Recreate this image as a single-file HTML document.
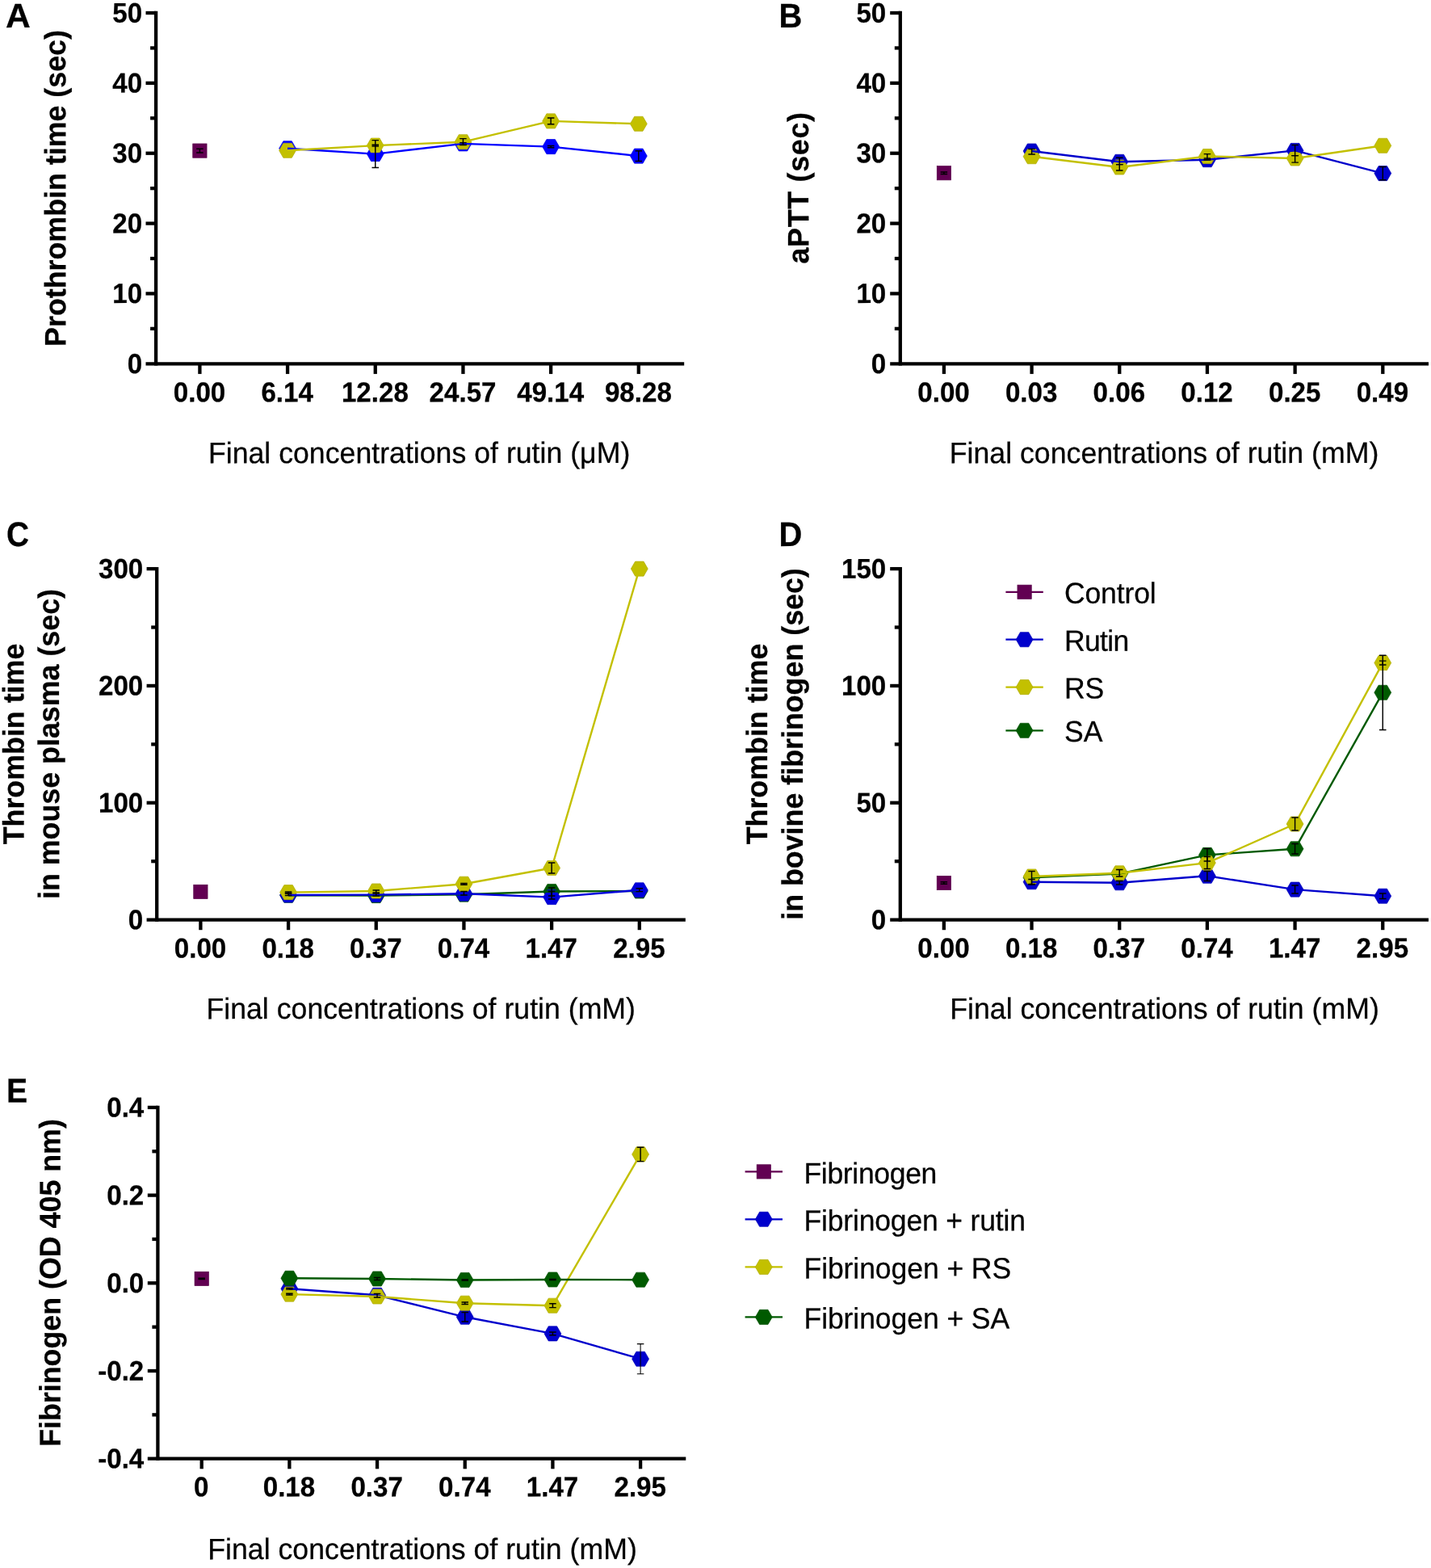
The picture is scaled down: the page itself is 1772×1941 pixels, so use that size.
<!DOCTYPE html>
<html lang="en"><head><meta charset="utf-8"><title>Figure</title>
<style>html,body{margin:0;padding:0;background:#fff}body{width:1772px;height:1941px;overflow:hidden}svg{display:block}text{font-family:"Liberation Sans",sans-serif;fill:#000;stroke:#000;stroke-width:0.25px;text-rendering:geometricPrecision}</style>
</head><body>
<svg width="1772" height="1941" viewBox="0 0 1772 1941" role="img" aria-label="Figure panels A to E">
<rect width="1772" height="1941" fill="#fff"/>
<g id="panelA">
<text transform="translate(6.91 33.9) rotate(-0.03) scale(1.029 1.02)" font-size="41.4" font-weight="700">A</text>
<line x1="193.1" y1="13.85" x2="193.1" y2="452.45" stroke="#000" stroke-width="4.3"/>
<line x1="180.5" y1="450.3" x2="847.2" y2="450.3" stroke="#000" stroke-width="4.3"/>
<line x1="180.5" y1="16" x2="193.1" y2="16" stroke="#000" stroke-width="4.3"/>
<text transform="translate(176.2 27.62) rotate(-0.03) scale(1.0 1.038)" font-size="33.15" font-weight="700" text-anchor="end">50</text>
<line x1="186.1" y1="59.43" x2="193.1" y2="59.43" stroke="#000" stroke-width="4.3"/>
<line x1="180.5" y1="102.86" x2="193.1" y2="102.86" stroke="#000" stroke-width="4.3"/>
<text transform="translate(176.2 114.48) rotate(-0.03) scale(1.0 1.038)" font-size="33.15" font-weight="700" text-anchor="end">40</text>
<line x1="186.1" y1="146.29" x2="193.1" y2="146.29" stroke="#000" stroke-width="4.3"/>
<line x1="180.5" y1="189.72" x2="193.1" y2="189.72" stroke="#000" stroke-width="4.3"/>
<text transform="translate(176.2 201.34) rotate(-0.03) scale(1.0 1.038)" font-size="33.15" font-weight="700" text-anchor="end">30</text>
<line x1="186.1" y1="233.15" x2="193.1" y2="233.15" stroke="#000" stroke-width="4.3"/>
<line x1="180.5" y1="276.58" x2="193.1" y2="276.58" stroke="#000" stroke-width="4.3"/>
<text transform="translate(176.2 288.2) rotate(-0.03) scale(1.0 1.038)" font-size="33.15" font-weight="700" text-anchor="end">20</text>
<line x1="186.1" y1="320.01" x2="193.1" y2="320.01" stroke="#000" stroke-width="4.3"/>
<line x1="180.5" y1="363.44" x2="193.1" y2="363.44" stroke="#000" stroke-width="4.3"/>
<text transform="translate(176.2 375.06) rotate(-0.03) scale(1.0 1.038)" font-size="33.15" font-weight="700" text-anchor="end">10</text>
<line x1="186.1" y1="406.87" x2="193.1" y2="406.87" stroke="#000" stroke-width="4.3"/>
<text transform="translate(176.2 461.92) rotate(-0.03) scale(1.0 1.038)" font-size="33.15" font-weight="700" text-anchor="end">0</text>
<line x1="247.4" y1="450.3" x2="247.4" y2="462.9" stroke="#000" stroke-width="4.3"/>
<text transform="translate(247 497.25) rotate(-0.03) scale(1.0 1.038)" font-size="33.15" font-weight="700" text-anchor="middle">0.00</text>
<line x1="356.08" y1="450.3" x2="356.08" y2="462.9" stroke="#000" stroke-width="4.3"/>
<text transform="translate(355.68 497.25) rotate(-0.03) scale(1.0 1.038)" font-size="33.15" font-weight="700" text-anchor="middle">6.14</text>
<line x1="464.76" y1="450.3" x2="464.76" y2="462.9" stroke="#000" stroke-width="4.3"/>
<text transform="translate(464.36 497.25) rotate(-0.03) scale(1.0 1.038)" font-size="33.15" font-weight="700" text-anchor="middle">12.28</text>
<line x1="573.44" y1="450.3" x2="573.44" y2="462.9" stroke="#000" stroke-width="4.3"/>
<text transform="translate(573.04 497.25) rotate(-0.03) scale(1.0 1.038)" font-size="33.15" font-weight="700" text-anchor="middle">24.57</text>
<line x1="682.12" y1="450.3" x2="682.12" y2="462.9" stroke="#000" stroke-width="4.3"/>
<text transform="translate(681.72 497.25) rotate(-0.03) scale(1.0 1.038)" font-size="33.15" font-weight="700" text-anchor="middle">49.14</text>
<line x1="790.8" y1="450.3" x2="790.8" y2="462.9" stroke="#000" stroke-width="4.3"/>
<text transform="translate(790.4 497.25) rotate(-0.03) scale(1.0 1.038)" font-size="33.15" font-weight="700" text-anchor="middle">98.28</text>
<text transform="translate(519.1 573.1) rotate(-0.03) scale(1.0 1.025)" font-size="35.7" text-anchor="middle">Final concentrations of rutin (μM)</text>
<text transform="translate(81.2 233) rotate(-90.03) scale(1.0 1.025)" font-size="35.8" font-weight="700" text-anchor="middle">Prothrombin time (sec)</text>
<rect x="238.75" y="177.95" width="17.3" height="17.3" fill="#620052" stroke="#580049" stroke-width="0.7"/>
<polygon points="345.63,183.7 350.86,174.65 361.31,174.65 366.53,183.7 361.31,192.75 350.86,192.75" fill="#0000ff" stroke="#0000e5" stroke-width="0.7" stroke-linejoin="miter"/>
<polygon points="454.31,190.6 459.53,181.55 469.99,181.55 475.21,190.6 469.99,199.65 459.53,199.65" fill="#0000ff" stroke="#0000e5" stroke-width="0.7" stroke-linejoin="miter"/>
<polygon points="562.99,177.9 568.22,168.85 578.67,168.85 583.89,177.9 578.67,186.95 568.22,186.95" fill="#0000ff" stroke="#0000e5" stroke-width="0.7" stroke-linejoin="miter"/>
<polygon points="671.67,181.6 676.89,172.55 687.35,172.55 692.57,181.6 687.35,190.65 676.89,190.65" fill="#0000ff" stroke="#0000e5" stroke-width="0.7" stroke-linejoin="miter"/>
<polygon points="780.35,193.1 785.58,184.05 796.03,184.05 801.25,193.1 796.03,202.15 785.58,202.15" fill="#0000ff" stroke="#0000e5" stroke-width="0.7" stroke-linejoin="miter"/>
<polygon points="345.63,186.3 350.86,177.25 361.31,177.25 366.53,186.3 361.31,195.35 350.86,195.35" fill="#c3c000" stroke="#afac00" stroke-width="0.7" stroke-linejoin="miter"/>
<polygon points="454.31,180.1 459.53,171.05 469.99,171.05 475.21,180.1 469.99,189.15 459.53,189.15" fill="#c3c000" stroke="#afac00" stroke-width="0.7" stroke-linejoin="miter"/>
<polygon points="562.99,175.7 568.22,166.65 578.67,166.65 583.89,175.7 578.67,184.75 568.22,184.75" fill="#c3c000" stroke="#afac00" stroke-width="0.7" stroke-linejoin="miter"/>
<polygon points="671.67,149.9 676.89,140.85 687.35,140.85 692.57,149.9 687.35,158.95 676.89,158.95" fill="#c3c000" stroke="#afac00" stroke-width="0.7" stroke-linejoin="miter"/>
<polygon points="780.35,153.3 785.58,144.25 796.03,144.25 801.25,153.3 796.03,162.35 785.58,162.35" fill="#c3c000" stroke="#afac00" stroke-width="0.7" stroke-linejoin="miter"/>
<polyline points="356.08,183.7 464.76,190.6 573.44,177.9 682.12,181.6 790.8,193.1" fill="none" stroke="#0000ff" stroke-width="2.4" stroke-linejoin="round"/>
<polyline points="356.08,186.3 464.76,180.1 573.44,175.7 682.12,149.9 790.8,153.3" fill="none" stroke="#c3c000" stroke-width="2.4" stroke-linejoin="round"/>
<path d="M247.4 184.3V188.9M243.15 184.3h8.5M243.15 188.9h8.5" stroke="#000" stroke-width="1.45" fill="none"/>
<path d="M464.76 173.6V207.5M460.51 173.6h8.5M460.51 207.5h8.5" stroke="#000" stroke-width="1.45" fill="none"/>
<path d="M464.76 179.2V181M460.51 179.2h8.5M460.51 181h8.5" stroke="#000" stroke-width="1.45" fill="none"/>
<path d="M573.44 171.6V179.6M569.19 171.6h8.5M569.19 179.6h8.5" stroke="#000" stroke-width="1.45" fill="none"/>
<path d="M573.44 176.6V179.2M569.19 176.6h8.5M569.19 179.2h8.5" stroke="#000" stroke-width="1.45" fill="none"/>
<path d="M682.12 146V153.8M677.87 146h8.5M677.87 153.8h8.5" stroke="#000" stroke-width="1.45" fill="none"/>
<path d="M682.12 180.4V182.8M677.87 180.4h8.5M677.87 182.8h8.5" stroke="#000" stroke-width="1.45" fill="none"/>
<path d="M790.8 186.8V199.4M786.55 186.8h8.5M786.55 199.4h8.5" stroke="#000" stroke-width="1.45" fill="none"/>
</g>
<g id="panelB">
<text transform="translate(964.44 33.9) rotate(-0.03) scale(0.965 1.02)" font-size="41.4" font-weight="700">B</text>
<line x1="1114.8" y1="13.85" x2="1114.8" y2="452.45" stroke="#000" stroke-width="4.3"/>
<line x1="1102.2" y1="450.3" x2="1769" y2="450.3" stroke="#000" stroke-width="4.3"/>
<line x1="1102.2" y1="16" x2="1114.8" y2="16" stroke="#000" stroke-width="4.3"/>
<text transform="translate(1097.3 27.62) rotate(-0.03) scale(1.0 1.038)" font-size="33.15" font-weight="700" text-anchor="end">50</text>
<line x1="1107.8" y1="59.43" x2="1114.8" y2="59.43" stroke="#000" stroke-width="4.3"/>
<line x1="1102.2" y1="102.86" x2="1114.8" y2="102.86" stroke="#000" stroke-width="4.3"/>
<text transform="translate(1097.3 114.48) rotate(-0.03) scale(1.0 1.038)" font-size="33.15" font-weight="700" text-anchor="end">40</text>
<line x1="1107.8" y1="146.29" x2="1114.8" y2="146.29" stroke="#000" stroke-width="4.3"/>
<line x1="1102.2" y1="189.72" x2="1114.8" y2="189.72" stroke="#000" stroke-width="4.3"/>
<text transform="translate(1097.3 201.34) rotate(-0.03) scale(1.0 1.038)" font-size="33.15" font-weight="700" text-anchor="end">30</text>
<line x1="1107.8" y1="233.15" x2="1114.8" y2="233.15" stroke="#000" stroke-width="4.3"/>
<line x1="1102.2" y1="276.58" x2="1114.8" y2="276.58" stroke="#000" stroke-width="4.3"/>
<text transform="translate(1097.3 288.2) rotate(-0.03) scale(1.0 1.038)" font-size="33.15" font-weight="700" text-anchor="end">20</text>
<line x1="1107.8" y1="320.01" x2="1114.8" y2="320.01" stroke="#000" stroke-width="4.3"/>
<line x1="1102.2" y1="363.44" x2="1114.8" y2="363.44" stroke="#000" stroke-width="4.3"/>
<text transform="translate(1097.3 375.06) rotate(-0.03) scale(1.0 1.038)" font-size="33.15" font-weight="700" text-anchor="end">10</text>
<line x1="1107.8" y1="406.87" x2="1114.8" y2="406.87" stroke="#000" stroke-width="4.3"/>
<text transform="translate(1097.3 461.92) rotate(-0.03) scale(1.0 1.038)" font-size="33.15" font-weight="700" text-anchor="end">0</text>
<line x1="1168.9" y1="450.3" x2="1168.9" y2="462.9" stroke="#000" stroke-width="4.3"/>
<text transform="translate(1168.5 497.25) rotate(-0.03) scale(1.0 1.038)" font-size="33.15" font-weight="700" text-anchor="middle">0.00</text>
<line x1="1277.58" y1="450.3" x2="1277.58" y2="462.9" stroke="#000" stroke-width="4.3"/>
<text transform="translate(1277.18 497.25) rotate(-0.03) scale(1.0 1.038)" font-size="33.15" font-weight="700" text-anchor="middle">0.03</text>
<line x1="1386.26" y1="450.3" x2="1386.26" y2="462.9" stroke="#000" stroke-width="4.3"/>
<text transform="translate(1385.86 497.25) rotate(-0.03) scale(1.0 1.038)" font-size="33.15" font-weight="700" text-anchor="middle">0.06</text>
<line x1="1494.94" y1="450.3" x2="1494.94" y2="462.9" stroke="#000" stroke-width="4.3"/>
<text transform="translate(1494.54 497.25) rotate(-0.03) scale(1.0 1.038)" font-size="33.15" font-weight="700" text-anchor="middle">0.12</text>
<line x1="1603.62" y1="450.3" x2="1603.62" y2="462.9" stroke="#000" stroke-width="4.3"/>
<text transform="translate(1603.22 497.25) rotate(-0.03) scale(1.0 1.038)" font-size="33.15" font-weight="700" text-anchor="middle">0.25</text>
<line x1="1712.3" y1="450.3" x2="1712.3" y2="462.9" stroke="#000" stroke-width="4.3"/>
<text transform="translate(1711.9 497.25) rotate(-0.03) scale(1.0 1.038)" font-size="33.15" font-weight="700" text-anchor="middle">0.49</text>
<text transform="translate(1441.5 573.1) rotate(-0.03) scale(1.0 1.025)" font-size="35.7" text-anchor="middle">Final concentrations of rutin (mM)</text>
<text transform="translate(1001.1 232.4) rotate(-90.03) scale(1.0 1.025)" font-size="35.8" font-weight="700" text-anchor="middle" letter-spacing="0.72">aPTT (sec)</text>
<rect x="1160.25" y="205.55" width="17.3" height="17.3" fill="#620052" stroke="#580049" stroke-width="0.7"/>
<polygon points="1267.13,187 1272.36,177.95 1282.81,177.95 1288.03,187 1282.81,196.05 1272.36,196.05" fill="#0000cc" stroke="#0000b7" stroke-width="0.7" stroke-linejoin="miter"/>
<polygon points="1375.81,200.3 1381.04,191.25 1391.49,191.25 1396.71,200.3 1391.49,209.35 1381.04,209.35" fill="#0000cc" stroke="#0000b7" stroke-width="0.7" stroke-linejoin="miter"/>
<polygon points="1484.49,197.7 1489.72,188.65 1500.16,188.65 1505.39,197.7 1500.16,206.75 1489.72,206.75" fill="#0000cc" stroke="#0000b7" stroke-width="0.7" stroke-linejoin="miter"/>
<polygon points="1593.17,186.4 1598.4,177.35 1608.85,177.35 1614.07,186.4 1608.85,195.45 1598.4,195.45" fill="#0000cc" stroke="#0000b7" stroke-width="0.7" stroke-linejoin="miter"/>
<polygon points="1701.85,214.6 1707.08,205.55 1717.53,205.55 1722.75,214.6 1717.53,223.65 1707.08,223.65" fill="#0000cc" stroke="#0000b7" stroke-width="0.7" stroke-linejoin="miter"/>
<polygon points="1267.13,193.7 1272.36,184.65 1282.81,184.65 1288.03,193.7 1282.81,202.75 1272.36,202.75" fill="#c3c000" stroke="#afac00" stroke-width="0.7" stroke-linejoin="miter"/>
<polygon points="1375.81,207 1381.04,197.95 1391.49,197.95 1396.71,207 1391.49,216.05 1381.04,216.05" fill="#c3c000" stroke="#afac00" stroke-width="0.7" stroke-linejoin="miter"/>
<polygon points="1484.49,193.5 1489.72,184.45 1500.16,184.45 1505.39,193.5 1500.16,202.55 1489.72,202.55" fill="#c3c000" stroke="#afac00" stroke-width="0.7" stroke-linejoin="miter"/>
<polygon points="1593.17,196 1598.4,186.95 1608.85,186.95 1614.07,196 1608.85,205.05 1598.4,205.05" fill="#c3c000" stroke="#afac00" stroke-width="0.7" stroke-linejoin="miter"/>
<polygon points="1701.85,180.3 1707.08,171.25 1717.53,171.25 1722.75,180.3 1717.53,189.35 1707.08,189.35" fill="#c3c000" stroke="#afac00" stroke-width="0.7" stroke-linejoin="miter"/>
<polyline points="1277.58,187 1386.26,200.3 1494.94,197.7 1603.62,186.4 1712.3,214.6" fill="none" stroke="#0000cc" stroke-width="2.4" stroke-linejoin="round"/>
<polyline points="1277.58,193.7 1386.26,207 1494.94,193.5 1603.62,196 1712.3,180.3" fill="none" stroke="#c3c000" stroke-width="2.4" stroke-linejoin="round"/>
<path d="M1168.9 213V215.4M1164.65 213h8.5M1164.65 215.4h8.5" stroke="#000" stroke-width="1.45" fill="none"/>
<path d="M1277.58 184.5V191M1273.33 184.5h8.5M1273.33 191h8.5" stroke="#000" stroke-width="1.45" fill="none"/>
<path d="M1386.26 195.2V203.6M1382.01 195.2h8.5M1382.01 203.6h8.5" stroke="#000" stroke-width="1.45" fill="none"/>
<path d="M1386.26 203.6V211M1382.01 203.6h8.5M1382.01 211h8.5" stroke="#000" stroke-width="1.45" fill="none"/>
<path d="M1494.94 190.6V197.7M1490.69 190.6h8.5M1490.69 197.7h8.5" stroke="#000" stroke-width="1.45" fill="none"/>
<path d="M1494.94 196V197.8M1490.69 196h8.5M1490.69 197.8h8.5" stroke="#000" stroke-width="1.45" fill="none"/>
<path d="M1603.62 179.4V192.6M1599.37 179.4h8.5M1599.37 192.6h8.5" stroke="#000" stroke-width="1.45" fill="none"/>
<path d="M1603.62 192.6V201.1M1599.37 192.6h8.5M1599.37 201.1h8.5" stroke="#000" stroke-width="1.45" fill="none"/>
<path d="M1712.3 206.5V222.8M1708.05 206.5h8.5M1708.05 222.8h8.5" stroke="#000" stroke-width="1.45" fill="none"/>
</g>
<g id="panelC">
<text transform="translate(7.9 675.95) rotate(-0.03) scale(0.938 1.033)" font-size="41.4" font-weight="700">C</text>
<line x1="194.2" y1="701.95" x2="194.2" y2="1140.75" stroke="#000" stroke-width="4.3"/>
<line x1="181.6" y1="1138.6" x2="848.85" y2="1138.6" stroke="#000" stroke-width="4.3"/>
<line x1="181.6" y1="704.1" x2="194.2" y2="704.1" stroke="#000" stroke-width="4.3"/>
<text transform="translate(177.3 715.72) rotate(-0.03) scale(1.0 1.038)" font-size="33.15" font-weight="700" text-anchor="end">300</text>
<line x1="187.2" y1="776.52" x2="194.2" y2="776.52" stroke="#000" stroke-width="4.3"/>
<line x1="181.6" y1="848.93" x2="194.2" y2="848.93" stroke="#000" stroke-width="4.3"/>
<text transform="translate(177.3 860.55) rotate(-0.03) scale(1.0 1.038)" font-size="33.15" font-weight="700" text-anchor="end">200</text>
<line x1="187.2" y1="921.35" x2="194.2" y2="921.35" stroke="#000" stroke-width="4.3"/>
<line x1="181.6" y1="993.77" x2="194.2" y2="993.77" stroke="#000" stroke-width="4.3"/>
<text transform="translate(177.3 1005.39) rotate(-0.03) scale(1.0 1.038)" font-size="33.15" font-weight="700" text-anchor="end">100</text>
<line x1="187.2" y1="1066.18" x2="194.2" y2="1066.18" stroke="#000" stroke-width="4.3"/>
<text transform="translate(177.3 1150.22) rotate(-0.03) scale(1.0 1.038)" font-size="33.15" font-weight="700" text-anchor="end">0</text>
<line x1="248.4" y1="1138.6" x2="248.4" y2="1151.2" stroke="#000" stroke-width="4.3"/>
<text transform="translate(248 1185.5) rotate(-0.03) scale(1.0 1.038)" font-size="33.15" font-weight="700" text-anchor="middle">0.00</text>
<line x1="357.08" y1="1138.6" x2="357.08" y2="1151.2" stroke="#000" stroke-width="4.3"/>
<text transform="translate(356.68 1185.5) rotate(-0.03) scale(1.0 1.038)" font-size="33.15" font-weight="700" text-anchor="middle">0.18</text>
<line x1="465.76" y1="1138.6" x2="465.76" y2="1151.2" stroke="#000" stroke-width="4.3"/>
<text transform="translate(465.36 1185.5) rotate(-0.03) scale(1.0 1.038)" font-size="33.15" font-weight="700" text-anchor="middle">0.37</text>
<line x1="574.44" y1="1138.6" x2="574.44" y2="1151.2" stroke="#000" stroke-width="4.3"/>
<text transform="translate(574.04 1185.5) rotate(-0.03) scale(1.0 1.038)" font-size="33.15" font-weight="700" text-anchor="middle">0.74</text>
<line x1="683.12" y1="1138.6" x2="683.12" y2="1151.2" stroke="#000" stroke-width="4.3"/>
<text transform="translate(682.72 1185.5) rotate(-0.03) scale(1.0 1.038)" font-size="33.15" font-weight="700" text-anchor="middle">1.47</text>
<line x1="791.8" y1="1138.6" x2="791.8" y2="1151.2" stroke="#000" stroke-width="4.3"/>
<text transform="translate(791.4 1185.5) rotate(-0.03) scale(1.0 1.038)" font-size="33.15" font-weight="700" text-anchor="middle">2.95</text>
<text transform="translate(521.2 1261) rotate(-0.03) scale(1.0 1.025)" font-size="35.7" text-anchor="middle">Final concentrations of rutin (mM)</text>
<text transform="translate(29.4 921) rotate(-90.03) scale(1.0 1.025)" font-size="35.8" font-weight="700" text-anchor="middle">Thrombin time</text>
<text transform="translate(73.1 921) rotate(-90.03) scale(1.0 1.025)" font-size="35.8" font-weight="700" text-anchor="middle">in mouse plasma (sec)</text>
<rect x="239.75" y="1095.25" width="17.3" height="17.3" fill="#620052" stroke="#580049" stroke-width="0.7"/>
<polygon points="346.63,1108.3 351.86,1099.25 362.31,1099.25 367.53,1108.3 362.31,1117.35 351.86,1117.35" fill="#005a00" stroke="#005100" stroke-width="0.7" stroke-linejoin="miter"/>
<polygon points="455.31,1108.6 460.53,1099.55 470.99,1099.55 476.21,1108.6 470.99,1117.65 460.53,1117.65" fill="#005a00" stroke="#005100" stroke-width="0.7" stroke-linejoin="miter"/>
<polygon points="563.99,1107.2 569.22,1098.15 579.67,1098.15 584.89,1107.2 579.67,1116.25 569.22,1116.25" fill="#005a00" stroke="#005100" stroke-width="0.7" stroke-linejoin="miter"/>
<polygon points="672.67,1103.5 677.89,1094.45 688.35,1094.45 693.57,1103.5 688.35,1112.55 677.89,1112.55" fill="#005a00" stroke="#005100" stroke-width="0.7" stroke-linejoin="miter"/>
<polygon points="781.35,1103 786.58,1093.95 797.03,1093.95 802.25,1103 797.03,1112.05 786.58,1112.05" fill="#005a00" stroke="#005100" stroke-width="0.7" stroke-linejoin="miter"/>
<polygon points="346.63,1108 351.86,1098.95 362.31,1098.95 367.53,1108 362.31,1117.05 351.86,1117.05" fill="#0000dc" stroke="#0000c6" stroke-width="0.7" stroke-linejoin="miter"/>
<polygon points="455.31,1107.6 460.53,1098.55 470.99,1098.55 476.21,1107.6 470.99,1116.65 460.53,1116.65" fill="#0000dc" stroke="#0000c6" stroke-width="0.7" stroke-linejoin="miter"/>
<polygon points="563.99,1106.3 569.22,1097.25 579.67,1097.25 584.89,1106.3 579.67,1115.35 569.22,1115.35" fill="#0000dc" stroke="#0000c6" stroke-width="0.7" stroke-linejoin="miter"/>
<polygon points="672.67,1110.6 677.89,1101.55 688.35,1101.55 693.57,1110.6 688.35,1119.65 677.89,1119.65" fill="#0000dc" stroke="#0000c6" stroke-width="0.7" stroke-linejoin="miter"/>
<polygon points="781.35,1101.8 786.58,1092.75 797.03,1092.75 802.25,1101.8 797.03,1110.85 786.58,1110.85" fill="#0000dc" stroke="#0000c6" stroke-width="0.7" stroke-linejoin="miter"/>
<polygon points="346.63,1104.6 351.86,1095.55 362.31,1095.55 367.53,1104.6 362.31,1113.65 351.86,1113.65" fill="#c3c000" stroke="#afac00" stroke-width="0.7" stroke-linejoin="miter"/>
<polygon points="455.31,1103 460.53,1093.95 470.99,1093.95 476.21,1103 470.99,1112.05 460.53,1112.05" fill="#c3c000" stroke="#afac00" stroke-width="0.7" stroke-linejoin="miter"/>
<polygon points="563.99,1094.2 569.22,1085.15 579.67,1085.15 584.89,1094.2 579.67,1103.25 569.22,1103.25" fill="#c3c000" stroke="#afac00" stroke-width="0.7" stroke-linejoin="miter"/>
<polygon points="672.67,1074.5 677.89,1065.45 688.35,1065.45 693.57,1074.5 688.35,1083.55 677.89,1083.55" fill="#c3c000" stroke="#afac00" stroke-width="0.7" stroke-linejoin="miter"/>
<polygon points="781.35,704.1 786.58,695.05 797.03,695.05 802.25,704.1 797.03,713.15 786.58,713.15" fill="#c3c000" stroke="#afac00" stroke-width="0.7" stroke-linejoin="miter"/>
<polyline points="357.08,1108.3 465.76,1108.6 574.44,1107.2 683.12,1103.5 791.8,1103" fill="none" stroke="#005a00" stroke-width="2.4" stroke-linejoin="round"/>
<polyline points="357.08,1108 465.76,1107.6 574.44,1106.3 683.12,1110.6 791.8,1101.8" fill="none" stroke="#0000dc" stroke-width="2.4" stroke-linejoin="round"/>
<polyline points="357.08,1104.6 465.76,1103 574.44,1094.2 683.12,1074.5 791.8,704.1" fill="none" stroke="#c3c000" stroke-width="2.4" stroke-linejoin="round"/>
<path d="M357.08 1105.5V1108.5M352.83 1105.5h8.5M352.83 1108.5h8.5" stroke="#000" stroke-width="1.45" fill="none"/>
<path d="M357.08 1104V1106M352.83 1104h8.5M352.83 1106h8.5" stroke="#000" stroke-width="1.45" fill="none"/>
<path d="M465.76 1102V1105M461.51 1102h8.5M461.51 1105h8.5" stroke="#000" stroke-width="1.45" fill="none"/>
<path d="M465.76 1106V1109M461.51 1106h8.5M461.51 1109h8.5" stroke="#000" stroke-width="1.45" fill="none"/>
<path d="M574.44 1093.5V1095.3M570.19 1093.5h8.5M570.19 1095.3h8.5" stroke="#000" stroke-width="1.45" fill="none"/>
<path d="M574.44 1103.5V1108M570.19 1103.5h8.5M570.19 1108h8.5" stroke="#000" stroke-width="1.45" fill="none"/>
<path d="M683.12 1068V1081M678.87 1068h8.5M678.87 1081h8.5" stroke="#000" stroke-width="1.45" fill="none"/>
<path d="M683.12 1099V1113M678.87 1099h8.5M678.87 1113h8.5" stroke="#000" stroke-width="1.45" fill="none"/>
<path d="M683.12 1103.5V1109M678.87 1103.5h8.5M678.87 1109h8.5" stroke="#000" stroke-width="1.45" fill="none"/>
<path d="M791.8 1099.8V1103.6M787.55 1099.8h8.5M787.55 1103.6h8.5" stroke="#000" stroke-width="1.45" fill="none"/>
</g>
<g id="panelD">
<text transform="translate(964.43 675.9) rotate(-0.03) scale(0.966 1.024)" font-size="41.4" font-weight="700">D</text>
<line x1="1114.8" y1="701.95" x2="1114.8" y2="1140.75" stroke="#000" stroke-width="4.3"/>
<line x1="1102.2" y1="1138.6" x2="1768.95" y2="1138.6" stroke="#000" stroke-width="4.3"/>
<line x1="1102.2" y1="704.1" x2="1114.8" y2="704.1" stroke="#000" stroke-width="4.3"/>
<text transform="translate(1097.3 715.72) rotate(-0.03) scale(1.0 1.038)" font-size="33.15" font-weight="700" text-anchor="end">150</text>
<line x1="1107.8" y1="776.52" x2="1114.8" y2="776.52" stroke="#000" stroke-width="4.3"/>
<line x1="1102.2" y1="848.93" x2="1114.8" y2="848.93" stroke="#000" stroke-width="4.3"/>
<text transform="translate(1097.3 860.55) rotate(-0.03) scale(1.0 1.038)" font-size="33.15" font-weight="700" text-anchor="end">100</text>
<line x1="1107.8" y1="921.35" x2="1114.8" y2="921.35" stroke="#000" stroke-width="4.3"/>
<line x1="1102.2" y1="993.77" x2="1114.8" y2="993.77" stroke="#000" stroke-width="4.3"/>
<text transform="translate(1097.3 1005.39) rotate(-0.03) scale(1.0 1.038)" font-size="33.15" font-weight="700" text-anchor="end">50</text>
<line x1="1107.8" y1="1066.18" x2="1114.8" y2="1066.18" stroke="#000" stroke-width="4.3"/>
<text transform="translate(1097.3 1150.22) rotate(-0.03) scale(1.0 1.038)" font-size="33.15" font-weight="700" text-anchor="end">0</text>
<line x1="1168.85" y1="1138.6" x2="1168.85" y2="1151.2" stroke="#000" stroke-width="4.3"/>
<text transform="translate(1168.45 1185.3) rotate(-0.03) scale(1.0 1.038)" font-size="33.15" font-weight="700" text-anchor="middle">0.00</text>
<line x1="1277.53" y1="1138.6" x2="1277.53" y2="1151.2" stroke="#000" stroke-width="4.3"/>
<text transform="translate(1277.13 1185.3) rotate(-0.03) scale(1.0 1.038)" font-size="33.15" font-weight="700" text-anchor="middle">0.18</text>
<line x1="1386.21" y1="1138.6" x2="1386.21" y2="1151.2" stroke="#000" stroke-width="4.3"/>
<text transform="translate(1385.81 1185.3) rotate(-0.03) scale(1.0 1.038)" font-size="33.15" font-weight="700" text-anchor="middle">0.37</text>
<line x1="1494.89" y1="1138.6" x2="1494.89" y2="1151.2" stroke="#000" stroke-width="4.3"/>
<text transform="translate(1494.49 1185.3) rotate(-0.03) scale(1.0 1.038)" font-size="33.15" font-weight="700" text-anchor="middle">0.74</text>
<line x1="1603.57" y1="1138.6" x2="1603.57" y2="1151.2" stroke="#000" stroke-width="4.3"/>
<text transform="translate(1603.17 1185.3) rotate(-0.03) scale(1.0 1.038)" font-size="33.15" font-weight="700" text-anchor="middle">1.47</text>
<line x1="1712.25" y1="1138.6" x2="1712.25" y2="1151.2" stroke="#000" stroke-width="4.3"/>
<text transform="translate(1711.85 1185.3) rotate(-0.03) scale(1.0 1.038)" font-size="33.15" font-weight="700" text-anchor="middle">2.95</text>
<text transform="translate(1442 1261) rotate(-0.03) scale(1.0 1.025)" font-size="35.7" text-anchor="middle">Final concentrations of rutin (mM)</text>
<text transform="translate(950 921) rotate(-90.03) scale(1.0 1.025)" font-size="35.8" font-weight="700" text-anchor="middle">Thrombin time</text>
<text transform="translate(994 921) rotate(-90.03) scale(1.0 1.025)" font-size="35.8" font-weight="700" text-anchor="middle">in bovine fibrinogen (sec)</text>
<rect x="1160.2" y="1084.35" width="17.3" height="17.3" fill="#620052" stroke="#580049" stroke-width="0.7"/>
<polygon points="1267.08,1086.3 1272.31,1077.25 1282.75,1077.25 1287.98,1086.3 1282.75,1095.35 1272.31,1095.35" fill="#005a00" stroke="#005100" stroke-width="0.7" stroke-linejoin="miter"/>
<polygon points="1375.76,1081.6 1380.99,1072.55 1391.43,1072.55 1396.66,1081.6 1391.43,1090.65 1380.99,1090.65" fill="#005a00" stroke="#005100" stroke-width="0.7" stroke-linejoin="miter"/>
<polygon points="1484.44,1058.4 1489.66,1049.35 1500.11,1049.35 1505.34,1058.4 1500.11,1067.45 1489.66,1067.45" fill="#005a00" stroke="#005100" stroke-width="0.7" stroke-linejoin="miter"/>
<polygon points="1593.12,1050.8 1598.35,1041.75 1608.79,1041.75 1614.02,1050.8 1608.79,1059.85 1598.35,1059.85" fill="#005a00" stroke="#005100" stroke-width="0.7" stroke-linejoin="miter"/>
<polygon points="1701.8,857.3 1707.03,848.25 1717.47,848.25 1722.7,857.3 1717.47,866.35 1707.03,866.35" fill="#005a00" stroke="#005100" stroke-width="0.7" stroke-linejoin="miter"/>
<polygon points="1267.08,1091.8 1272.31,1082.75 1282.75,1082.75 1287.98,1091.8 1282.75,1100.85 1272.31,1100.85" fill="#0000cc" stroke="#0000b7" stroke-width="0.7" stroke-linejoin="miter"/>
<polygon points="1375.76,1092.8 1380.99,1083.75 1391.43,1083.75 1396.66,1092.8 1391.43,1101.85 1380.99,1101.85" fill="#0000cc" stroke="#0000b7" stroke-width="0.7" stroke-linejoin="miter"/>
<polygon points="1484.44,1084.3 1489.66,1075.25 1500.11,1075.25 1505.34,1084.3 1500.11,1093.35 1489.66,1093.35" fill="#0000cc" stroke="#0000b7" stroke-width="0.7" stroke-linejoin="miter"/>
<polygon points="1593.12,1101.1 1598.35,1092.05 1608.79,1092.05 1614.02,1101.1 1608.79,1110.15 1598.35,1110.15" fill="#0000cc" stroke="#0000b7" stroke-width="0.7" stroke-linejoin="miter"/>
<polygon points="1701.8,1109.2 1707.03,1100.15 1717.47,1100.15 1722.7,1109.2 1717.47,1118.25 1707.03,1118.25" fill="#0000cc" stroke="#0000b7" stroke-width="0.7" stroke-linejoin="miter"/>
<polygon points="1267.08,1085 1272.31,1075.95 1282.75,1075.95 1287.98,1085 1282.75,1094.05 1272.31,1094.05" fill="#c3c000" stroke="#afac00" stroke-width="0.7" stroke-linejoin="miter"/>
<polygon points="1375.76,1080.8 1380.99,1071.75 1391.43,1071.75 1396.66,1080.8 1391.43,1089.85 1380.99,1089.85" fill="#c3c000" stroke="#afac00" stroke-width="0.7" stroke-linejoin="miter"/>
<polygon points="1484.44,1068.1 1489.66,1059.05 1500.11,1059.05 1505.34,1068.1 1500.11,1077.15 1489.66,1077.15" fill="#c3c000" stroke="#afac00" stroke-width="0.7" stroke-linejoin="miter"/>
<polygon points="1593.12,1020 1598.35,1010.95 1608.79,1010.95 1614.02,1020 1608.79,1029.05 1598.35,1029.05" fill="#c3c000" stroke="#afac00" stroke-width="0.7" stroke-linejoin="miter"/>
<polygon points="1701.8,820.6 1707.03,811.55 1717.47,811.55 1722.7,820.6 1717.47,829.65 1707.03,829.65" fill="#c3c000" stroke="#afac00" stroke-width="0.7" stroke-linejoin="miter"/>
<polyline points="1277.53,1086.3 1386.21,1081.6 1494.89,1058.4 1603.57,1050.8 1712.25,857.3" fill="none" stroke="#005a00" stroke-width="2.4" stroke-linejoin="round"/>
<polyline points="1277.53,1091.8 1386.21,1092.8 1494.89,1084.3 1603.57,1101.1 1712.25,1109.2" fill="none" stroke="#0000cc" stroke-width="2.4" stroke-linejoin="round"/>
<polyline points="1277.53,1085 1386.21,1080.8 1494.89,1068.1 1603.57,1020 1712.25,820.6" fill="none" stroke="#c3c000" stroke-width="2.4" stroke-linejoin="round"/>
<path d="M1168.85 1091.8V1094.2M1164.6 1091.8h8.5M1164.6 1094.2h8.5" stroke="#000" stroke-width="1.45" fill="none"/>
<path d="M1277.53 1078.5V1095M1273.28 1078.5h8.5M1273.28 1095h8.5" stroke="#000" stroke-width="1.45" fill="none"/>
<path d="M1277.53 1088.5V1094.5M1273.28 1088.5h8.5M1273.28 1094.5h8.5" stroke="#000" stroke-width="1.45" fill="none"/>
<path d="M1386.21 1076.5V1085M1381.96 1076.5h8.5M1381.96 1085h8.5" stroke="#000" stroke-width="1.45" fill="none"/>
<path d="M1386.21 1090.5V1095M1381.96 1090.5h8.5M1381.96 1095h8.5" stroke="#000" stroke-width="1.45" fill="none"/>
<path d="M1494.89 1050.5V1066M1490.64 1050.5h8.5M1490.64 1066h8.5" stroke="#000" stroke-width="1.45" fill="none"/>
<path d="M1494.89 1060.5V1075.5M1490.64 1060.5h8.5M1490.64 1075.5h8.5" stroke="#000" stroke-width="1.45" fill="none"/>
<path d="M1494.89 1078.5V1090.5M1490.64 1078.5h8.5M1490.64 1090.5h8.5" stroke="#000" stroke-width="1.45" fill="none"/>
<path d="M1603.57 1012V1028M1599.32 1012h8.5M1599.32 1028h8.5" stroke="#000" stroke-width="1.45" fill="none"/>
<path d="M1603.57 1044.5V1057M1599.32 1044.5h8.5M1599.32 1057h8.5" stroke="#000" stroke-width="1.45" fill="none"/>
<path d="M1603.57 1096V1106M1599.32 1096h8.5M1599.32 1106h8.5" stroke="#000" stroke-width="1.45" fill="none"/>
<path d="M1712.25 1106V1112.5M1708 1106h8.5M1708 1112.5h8.5" stroke="#000" stroke-width="1.45" fill="none"/>
<path d="M1712.25 811.3V903.4M1708 811.3h8.5M1708 903.4h8.5" stroke="#000" stroke-width="1.45" fill="none"/>
<path d="M1712.25 818.1V823M1708 818.1h8.5M1708 823h8.5" stroke="#000" stroke-width="1.45" fill="none"/>
</g>
<g id="panelE">
<text transform="translate(8.06 1364.4) rotate(-0.03) scale(0.947 1.02)" font-size="41.4" font-weight="700">E</text>
<line x1="195.4" y1="1368.75" x2="195.4" y2="1807.85" stroke="#000" stroke-width="4.3"/>
<line x1="182.8" y1="1805.7" x2="849.3" y2="1805.7" stroke="#000" stroke-width="4.3"/>
<line x1="182.8" y1="1370.9" x2="195.4" y2="1370.9" stroke="#000" stroke-width="4.3"/>
<text transform="translate(178.3 1382.52) rotate(-0.03) scale(1.0 1.038)" font-size="33.15" font-weight="700" text-anchor="end">0.4</text>
<line x1="188.4" y1="1425.25" x2="195.4" y2="1425.25" stroke="#000" stroke-width="4.3"/>
<line x1="182.8" y1="1479.6" x2="195.4" y2="1479.6" stroke="#000" stroke-width="4.3"/>
<text transform="translate(178.3 1491.22) rotate(-0.03) scale(1.0 1.038)" font-size="33.15" font-weight="700" text-anchor="end">0.2</text>
<line x1="188.4" y1="1533.95" x2="195.4" y2="1533.95" stroke="#000" stroke-width="4.3"/>
<line x1="182.8" y1="1588.3" x2="195.4" y2="1588.3" stroke="#000" stroke-width="4.3"/>
<text transform="translate(178.3 1599.92) rotate(-0.03) scale(1.0 1.038)" font-size="33.15" font-weight="700" text-anchor="end">0.0</text>
<line x1="188.4" y1="1642.65" x2="195.4" y2="1642.65" stroke="#000" stroke-width="4.3"/>
<line x1="182.8" y1="1697" x2="195.4" y2="1697" stroke="#000" stroke-width="4.3"/>
<text transform="translate(178.3 1708.62) rotate(-0.03) scale(1.0 1.038)" font-size="33.15" font-weight="700" text-anchor="end">-0.2</text>
<line x1="188.4" y1="1751.35" x2="195.4" y2="1751.35" stroke="#000" stroke-width="4.3"/>
<text transform="translate(178.3 1817.32) rotate(-0.03) scale(1.0 1.038)" font-size="33.15" font-weight="700" text-anchor="end">-0.4</text>
<line x1="249.7" y1="1805.7" x2="249.7" y2="1818.3" stroke="#000" stroke-width="4.3"/>
<text transform="translate(249.3 1852.2) rotate(-0.03) scale(1.0 1.038)" font-size="33.15" font-weight="700" text-anchor="middle">0</text>
<line x1="358.38" y1="1805.7" x2="358.38" y2="1818.3" stroke="#000" stroke-width="4.3"/>
<text transform="translate(357.98 1852.2) rotate(-0.03) scale(1.0 1.038)" font-size="33.15" font-weight="700" text-anchor="middle">0.18</text>
<line x1="467.06" y1="1805.7" x2="467.06" y2="1818.3" stroke="#000" stroke-width="4.3"/>
<text transform="translate(466.66 1852.2) rotate(-0.03) scale(1.0 1.038)" font-size="33.15" font-weight="700" text-anchor="middle">0.37</text>
<line x1="575.74" y1="1805.7" x2="575.74" y2="1818.3" stroke="#000" stroke-width="4.3"/>
<text transform="translate(575.34 1852.2) rotate(-0.03) scale(1.0 1.038)" font-size="33.15" font-weight="700" text-anchor="middle">0.74</text>
<line x1="684.42" y1="1805.7" x2="684.42" y2="1818.3" stroke="#000" stroke-width="4.3"/>
<text transform="translate(684.02 1852.2) rotate(-0.03) scale(1.0 1.038)" font-size="33.15" font-weight="700" text-anchor="middle">1.47</text>
<line x1="793.1" y1="1805.7" x2="793.1" y2="1818.3" stroke="#000" stroke-width="4.3"/>
<text transform="translate(792.7 1852.2) rotate(-0.03) scale(1.0 1.038)" font-size="33.15" font-weight="700" text-anchor="middle">2.95</text>
<text transform="translate(523 1930) rotate(-0.03) scale(1.0 1.025)" font-size="35.7" text-anchor="middle">Final concentrations of rutin (mM)</text>
<text transform="translate(74.7 1588) rotate(-90.03) scale(1.0 1.025)" font-size="35.8" font-weight="700" text-anchor="middle">Fibrinogen (OD 405 nm)</text>
<rect x="241.05" y="1574.25" width="17.3" height="17.3" fill="#620052" stroke="#580049" stroke-width="0.7"/>
<polygon points="347.93,1595.3 353.15,1586.25 363.61,1586.25 368.83,1595.3 363.61,1604.35 353.15,1604.35" fill="#0000cc" stroke="#0000b7" stroke-width="0.7" stroke-linejoin="miter"/>
<polygon points="456.61,1603.3 461.83,1594.25 472.29,1594.25 477.51,1603.3 472.29,1612.35 461.83,1612.35" fill="#0000cc" stroke="#0000b7" stroke-width="0.7" stroke-linejoin="miter"/>
<polygon points="565.29,1630.3 570.51,1621.25 580.97,1621.25 586.19,1630.3 580.97,1639.35 570.51,1639.35" fill="#0000cc" stroke="#0000b7" stroke-width="0.7" stroke-linejoin="miter"/>
<polygon points="673.97,1650.9 679.2,1641.85 689.65,1641.85 694.87,1650.9 689.65,1659.95 679.2,1659.95" fill="#0000cc" stroke="#0000b7" stroke-width="0.7" stroke-linejoin="miter"/>
<polygon points="782.65,1682.2 787.88,1673.15 798.33,1673.15 803.55,1682.2 798.33,1691.25 787.88,1691.25" fill="#0000cc" stroke="#0000b7" stroke-width="0.7" stroke-linejoin="miter"/>
<polygon points="347.93,1602.1 353.15,1593.05 363.61,1593.05 368.83,1602.1 363.61,1611.15 353.15,1611.15" fill="#c3c000" stroke="#afac00" stroke-width="0.7" stroke-linejoin="miter"/>
<polygon points="456.61,1605 461.83,1595.95 472.29,1595.95 477.51,1605 472.29,1614.05 461.83,1614.05" fill="#c3c000" stroke="#afac00" stroke-width="0.7" stroke-linejoin="miter"/>
<polygon points="565.29,1613.2 570.51,1604.15 580.97,1604.15 586.19,1613.2 580.97,1622.25 570.51,1622.25" fill="#c3c000" stroke="#afac00" stroke-width="0.7" stroke-linejoin="miter"/>
<polygon points="673.97,1616.2 679.2,1607.15 689.65,1607.15 694.87,1616.2 689.65,1625.25 679.2,1625.25" fill="#c3c000" stroke="#afac00" stroke-width="0.7" stroke-linejoin="miter"/>
<polygon points="782.65,1428.9 787.88,1419.85 798.33,1419.85 803.55,1428.9 798.33,1437.95 787.88,1437.95" fill="#c3c000" stroke="#afac00" stroke-width="0.7" stroke-linejoin="miter"/>
<polygon points="347.93,1582.3 353.15,1573.25 363.61,1573.25 368.83,1582.3 363.61,1591.35 353.15,1591.35" fill="#005a00" stroke="#005100" stroke-width="0.7" stroke-linejoin="miter"/>
<polygon points="456.61,1583 461.83,1573.95 472.29,1573.95 477.51,1583 472.29,1592.05 461.83,1592.05" fill="#005a00" stroke="#005100" stroke-width="0.7" stroke-linejoin="miter"/>
<polygon points="565.29,1584.5 570.51,1575.45 580.97,1575.45 586.19,1584.5 580.97,1593.55 570.51,1593.55" fill="#005a00" stroke="#005100" stroke-width="0.7" stroke-linejoin="miter"/>
<polygon points="673.97,1584 679.2,1574.95 689.65,1574.95 694.87,1584 689.65,1593.05 679.2,1593.05" fill="#005a00" stroke="#005100" stroke-width="0.7" stroke-linejoin="miter"/>
<polygon points="782.65,1584.2 787.88,1575.15 798.33,1575.15 803.55,1584.2 798.33,1593.25 787.88,1593.25" fill="#005a00" stroke="#005100" stroke-width="0.7" stroke-linejoin="miter"/>
<polyline points="358.38,1595.3 467.06,1603.3 575.74,1630.3 684.42,1650.9 793.1,1682.2" fill="none" stroke="#0000cc" stroke-width="2.4" stroke-linejoin="round"/>
<polyline points="358.38,1602.1 467.06,1605 575.74,1613.2 684.42,1616.2 793.1,1428.9" fill="none" stroke="#c3c000" stroke-width="2.4" stroke-linejoin="round"/>
<polyline points="358.38,1582.3 467.06,1583 575.74,1584.5 684.42,1584 793.1,1584.2" fill="none" stroke="#005a00" stroke-width="2.4" stroke-linejoin="round"/>
<path d="M249.7 1582.2V1583.6M245.45 1582.2h8.5M245.45 1583.6h8.5" stroke="#000" stroke-width="1.45" fill="none"/>
<path d="M358.38 1601.3V1602.9M354.13 1601.3h8.5M354.13 1602.9h8.5" stroke="#000" stroke-width="1.45" fill="none"/>
<path d="M358.38 1594.5V1596.1M354.13 1594.5h8.5M354.13 1596.1h8.5" stroke="#000" stroke-width="1.45" fill="none"/>
<path d="M467.06 1581.5V1584.5M462.81 1581.5h8.5M462.81 1584.5h8.5" stroke="#000" stroke-width="1.45" fill="none"/>
<path d="M467.06 1601.5V1606M462.81 1601.5h8.5M462.81 1606h8.5" stroke="#000" stroke-width="1.45" fill="none"/>
<path d="M575.74 1612V1614.4M571.49 1612h8.5M571.49 1614.4h8.5" stroke="#000" stroke-width="1.45" fill="none"/>
<path d="M575.74 1624.5V1636M571.49 1624.5h8.5M571.49 1636h8.5" stroke="#000" stroke-width="1.45" fill="none"/>
<path d="M575.74 1584V1585M571.49 1584h8.5M571.49 1585h8.5" stroke="#000" stroke-width="1.45" fill="none"/>
<path d="M684.42 1613.8V1618.6M680.17 1613.8h8.5M680.17 1618.6h8.5" stroke="#000" stroke-width="1.45" fill="none"/>
<path d="M684.42 1649V1652.8M680.17 1649h8.5M680.17 1652.8h8.5" stroke="#000" stroke-width="1.45" fill="none"/>
<path d="M684.42 1583.5V1584.5M680.17 1583.5h8.5M680.17 1584.5h8.5" stroke="#000" stroke-width="1.45" fill="none"/>
<path d="M793.1 1420.2V1437.6M788.85 1420.2h8.5M788.85 1437.6h8.5" stroke="#000" stroke-width="1.45" fill="none"/>
<path d="M793.1 1663.6V1700.8M788.85 1663.6h8.5M788.85 1700.8h8.5" stroke="#000" stroke-width="1.05" fill="none"/>
</g>
<g>
<line x1="1245.4" y1="732.8" x2="1291.8" y2="732.8" stroke="#620052" stroke-width="2.3"/>
<rect x="1259.95" y="724.15" width="17.3" height="17.3" fill="#620052" stroke="#580049" stroke-width="0.7"/>
<text transform="translate(1317.9 746.7) rotate(-0.03) scale(1.0 1.025)" font-size="35.6" letter-spacing="-0.15">Control</text>
<line x1="1245.4" y1="791.7" x2="1291.8" y2="791.7" stroke="#0000cc" stroke-width="2.3"/>
<polygon points="1258.15,791.7 1263.38,782.65 1273.82,782.65 1279.05,791.7 1273.82,800.75 1263.38,800.75" fill="#0000cc" stroke="#0000b7" stroke-width="0.7" stroke-linejoin="miter"/>
<text transform="translate(1317.9 805.8) rotate(-0.03) scale(1.0 1.025)" font-size="35.6" letter-spacing="-0.65">Rutin</text>
<line x1="1245.4" y1="850.6" x2="1291.8" y2="850.6" stroke="#c3c000" stroke-width="2.3"/>
<polygon points="1258.15,850.6 1263.38,841.55 1273.82,841.55 1279.05,850.6 1273.82,859.65 1263.38,859.65" fill="#c3c000" stroke="#afac00" stroke-width="0.7" stroke-linejoin="miter"/>
<text transform="translate(1317.9 864.5) rotate(-0.03) scale(1.0 1.025)" font-size="35.6">RS</text>
<line x1="1245.4" y1="904.3" x2="1291.8" y2="904.3" stroke="#005a00" stroke-width="2.3"/>
<polygon points="1258.15,904.3 1263.38,895.25 1273.82,895.25 1279.05,904.3 1273.82,913.35 1263.38,913.35" fill="#005a00" stroke="#005100" stroke-width="0.7" stroke-linejoin="miter"/>
<text transform="translate(1317.9 917.9) rotate(-0.03) scale(1.0 1.025)" font-size="35.6">SA</text>
</g>
<g>
<line x1="922.6" y1="1450.4" x2="969" y2="1450.4" stroke="#620052" stroke-width="2.3"/>
<rect x="937.15" y="1441.75" width="17.3" height="17.3" fill="#620052" stroke="#580049" stroke-width="0.7"/>
<text transform="translate(995.5 1465.1) rotate(-0.03) scale(1.0 1.025)" font-size="35.6" letter-spacing="-0.36">Fibrinogen</text>
<line x1="922.6" y1="1509.3" x2="969" y2="1509.3" stroke="#0000cc" stroke-width="2.3"/>
<polygon points="935.35,1509.3 940.57,1500.25 951.02,1500.25 956.25,1509.3 951.02,1518.35 940.57,1518.35" fill="#0000cc" stroke="#0000b7" stroke-width="0.7" stroke-linejoin="miter"/>
<text transform="translate(995.5 1523.4) rotate(-0.03) scale(1.0 1.025)" font-size="35.6" letter-spacing="-0.2">Fibrinogen + rutin</text>
<line x1="922.6" y1="1568.4" x2="969" y2="1568.4" stroke="#c3c000" stroke-width="2.3"/>
<polygon points="935.35,1568.4 940.57,1559.35 951.02,1559.35 956.25,1568.4 951.02,1577.45 940.57,1577.45" fill="#c3c000" stroke="#afac00" stroke-width="0.7" stroke-linejoin="miter"/>
<text transform="translate(995.5 1582.5) rotate(-0.03) scale(1.0 1.025)" font-size="35.6" letter-spacing="-0.1">Fibrinogen + RS</text>
<line x1="922.6" y1="1630.4" x2="969" y2="1630.4" stroke="#005a00" stroke-width="2.3"/>
<polygon points="935.35,1630.4 940.57,1621.35 951.02,1621.35 956.25,1630.4 951.02,1639.45 940.57,1639.45" fill="#005a00" stroke="#005100" stroke-width="0.7" stroke-linejoin="miter"/>
<text transform="translate(995.5 1644.6) rotate(-0.03) scale(1.0 1.025)" font-size="35.6" letter-spacing="-0.1">Fibrinogen + SA</text>
</g>
</svg></body></html>
